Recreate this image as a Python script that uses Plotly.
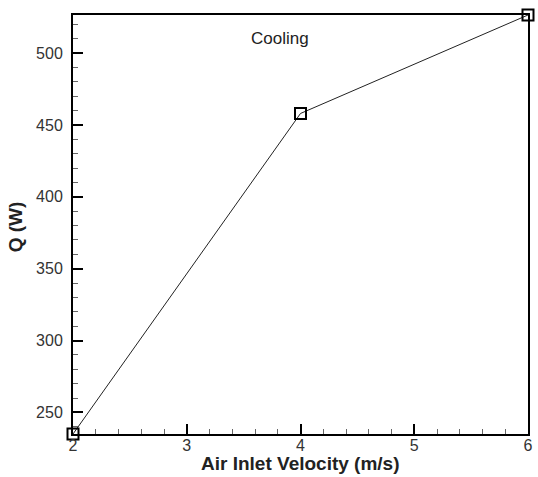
import plotly.graph_objects as go

velocity = [2, 4, 6]
heat_q = [235, 458, 526.5]
x_ticks = [2, 3, 4, 5, 6]
y_ticks = [250, 300, 350, 400, 450, 500]

fnt = "Liberation Sans, Arial, sans-serif"

fig = go.Figure()
fig.add_trace(go.Scatter(
    x=velocity, y=heat_q, mode="lines+markers",
    line=dict(color="#222", width=1),
    marker=dict(symbol="square-open", size=11, color="black", line=dict(width=2)),
    cliponaxis=False, showlegend=False,
))

fig.update_layout(
    width=538, height=477,
    margin=dict(l=73, r=5, t=15, b=43),
    paper_bgcolor="white", plot_bgcolor="white",
    font=dict(family=fnt, color="#333", size=16),
    annotations=[
        dict(text="Cooling", x=0.455, y=0.943, xref="paper", yref="paper", showarrow=False,
             yanchor="middle", font=dict(size=17, color="#222")),
        dict(text="<b>Air Inlet Velocity (m/s)</b>", x=0.5, y=-0.07, xref="paper", yref="paper",
             showarrow=False, yanchor="middle", font=dict(size=19, color="#222")),
        dict(text="<b>Q (W)</b>", x=-0.126, y=0.495, xref="paper", yref="paper", textangle=-90,
             showarrow=False, xanchor="center", yanchor="middle", font=dict(size=19, color="#222")),
    ],
)
fig.update_xaxes(range=[2, 6], tickmode="array", tickvals=x_ticks, ticks="inside", ticklen=10, tickwidth=2,
                 tickcolor="black", showline=True, linecolor="black", linewidth=2, mirror=True,
                 showgrid=False, zeroline=False, ticklabelstandoff=-4,
                 tickfont=dict(family=fnt, size=16, color="#333"),
                 minor=dict(dtick=0.2, ticks="inside", ticklen=5, tickwidth=1, tickcolor="#666", showgrid=False))
fig.update_yaxes(range=[235, 526.5], tickmode="array", tickvals=y_ticks, ticks="inside", ticklen=10, tickwidth=2,
                 tickcolor="black", showline=True, linecolor="black", linewidth=2, mirror=True,
                 showgrid=False, zeroline=False, ticklabelstandoff=5,
                 tickfont=dict(family=fnt, size=16, color="#333"),
                 minor=dict(tick0=0, dtick=10, ticks="inside", ticklen=5, tickwidth=1, tickcolor="#666", showgrid=False))
fig.write_html("out.html")
